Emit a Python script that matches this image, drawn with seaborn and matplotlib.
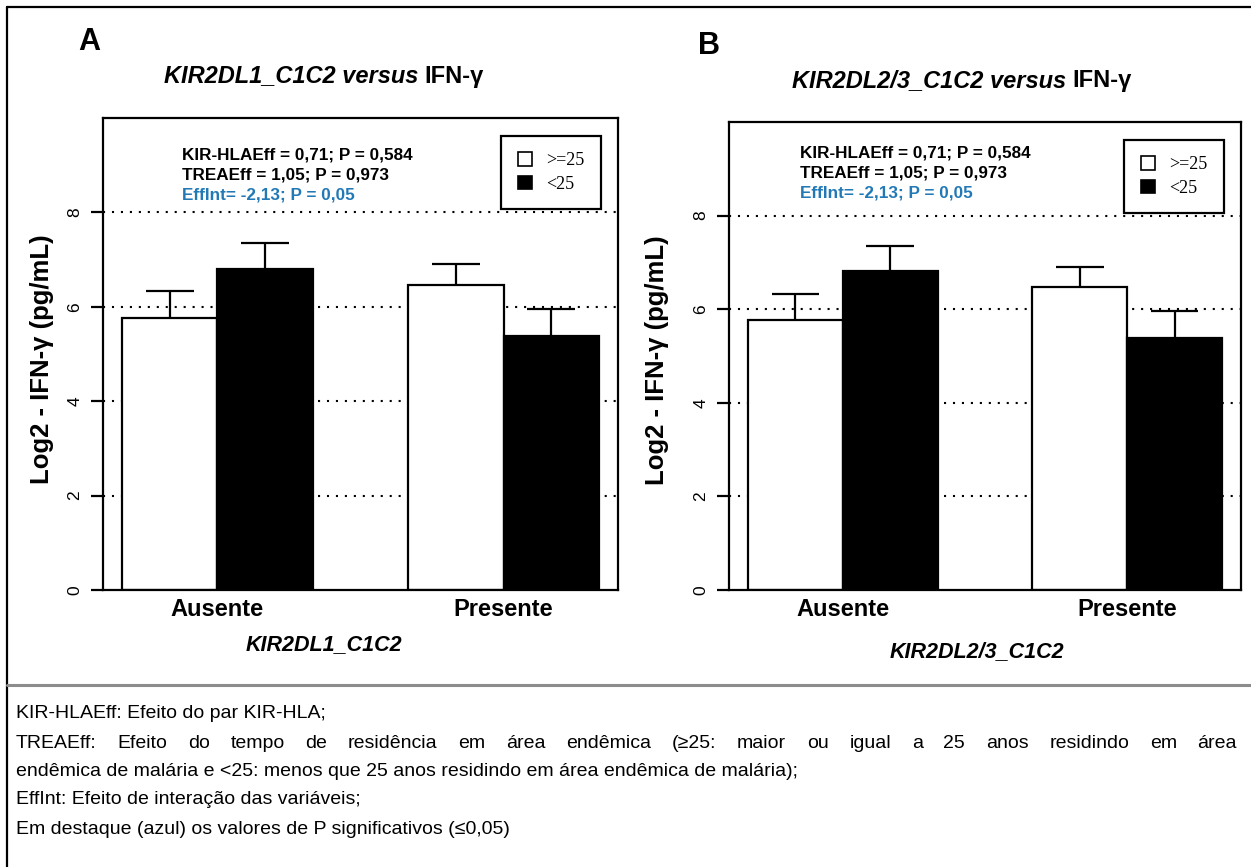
import matplotlib
matplotlib.use("Agg")
import matplotlib.pyplot as plt
import seaborn as sns
import pandas as pd
from matplotlib.patches import Patch
from matplotlib.lines import Line2D

# ---------------- data ----------------
groups = ["Ausente", "Presente"]
hue_levels = [">=25", "<25"]
means_ge25 = [5.76, 6.47]
means_lt25 = [6.81, 5.39]
se_ge25 = [0.57, 0.44]
se_lt25 = [0.54, 0.57]
yticks = [0, 2, 4, 6, 8]
panel_letters = ["A", "B"]
gene_labels = ["KIR2DL1_C1C2", "KIR2DL2/3_C1C2"]
stats_lines = ["KIR-HLAEff = 0,71; P = 0,584",
               "TREAEff = 1,05; P = 0,973",
               "EffInt= -2,13; P = 0,05"]
caption_lines = [
    "KIR-HLAEff: Efeito do par KIR-HLA;",
    "TREAEff: Efeito do tempo de residência em área endêmica (≥25: maior ou igual a 25 anos residindo em área",
    "endêmica de malária e <25: menos que 25 anos residindo em área endêmica de malária);",
    "EffInt: Efeito de interação das variáveis;",
    "Em destaque (azul) os valores de P significativos (≤0,05)",
]

BLUE = "#2279B6"
W, H = 1251, 867

sns.set_theme(style="white")
plt.rcParams["font.family"] = ["Liberation Sans", "DejaVu Sans"]
plt.rcParams["text.color"] = "black"
plt.rcParams["axes.labelcolor"] = "black"
plt.rcParams["xtick.color"] = "black"
plt.rcParams["ytick.color"] = "black"

df = pd.DataFrame({
    "group": groups * 2,
    "age": [hue_levels[0]] * 2 + [hue_levels[1]] * 2,
    "value": means_ge25 + means_lt25,
})
se_map = {(0, 0): se_ge25[0], (1, 0): se_ge25[1], (0, 1): se_lt25[0], (1, 1): se_lt25[1]}

fig = plt.figure(figsize=(W / 100, H / 100), dpi=100)
fig.patch.set_facecolor("white")


def fx(px):
    return px / W


def fy(py):
    return 1 - py / H


# axes boxes in pixel coords (left, top, right, bottom)
boxes = [(103, 118, 618, 590), (729, 122, 1241, 590)]
title_pos = [(324, 76), (962, 81)]
letter_pos = [(89, 42), (709, 46)]
stats_pos = [(182, 155), (800, 153)]
xlabel_pos = [(324, 645), (977, 652)]
ylabel_x = [42, 657]

renderer = fig.canvas.get_renderer()


def place_runs(runs, cx, cy, size):
    """place text runs (text, style) side by side centred at cx (pixels)"""
    texts = []
    widths = []
    for s, style in runs:
        t = fig.text(0, fy(cy), s, fontsize=size, fontweight="bold", fontstyle=style,
                     va="center", ha="left")
        widths.append(t.get_window_extent(renderer).width)
        texts.append(t)
    total = sum(widths)
    x = cx - total / 2
    for t, w in zip(texts, widths):
        t.set_x(fx(x))
        x += w


for i, (l, t, r, b) in enumerate(boxes):
    ax = fig.add_axes([fx(l), fy(b), fx(r - l), (b - t) / H])
    # dotted reference lines behind bars
    for yv in yticks[1:]:
        ax.axhline(yv, color="black", lw=1.5, ls=(0, (1, 3.3)), zorder=0)
    sns.barplot(data=df, x="group", y="value", hue="age", hue_order=hue_levels,
                palette={hue_levels[0]: "white", hue_levels[1]: "black"},
                edgecolor="black", linewidth=1.6, width=2 / 3, errorbar=None,
                legend=False, ax=ax, zorder=2)
    # upper error bars
    for p in ax.patches:
        w = p.get_width()
        xc = p.get_x() + w / 2
        h = p.get_height()
        gi = int(round(xc))
        hi = 0 if xc < gi else 1
        top = h + se_map[(gi, hi)]
        ax.plot([xc, xc], [h, top], color="black", lw=1.6, zorder=3, solid_capstyle="butt")
        ax.plot([xc - w / 4, xc + w / 4], [top, top], color="black", lw=1.6, zorder=3,
                solid_capstyle="butt")
    ax.set_xlim(-0.4, 1.4)
    ax.set_ylim(0, 10)
    ax.set_yticks(yticks)
    ax.set_yticklabels([str(v) for v in yticks], rotation=90, va="center", fontsize=12.5)
    ax.tick_params(axis="y", direction="out", length=9, width=1.6, pad=6, left=True)
    ax.tick_params(axis="x", length=0, pad=6)
    for lab in ax.get_xticklabels():
        lab.set_fontweight("bold")
        lab.set_fontsize(17)
    for s in ax.spines.values():
        s.set_visible(True)
        s.set_color("black")
        s.set_linewidth(1.6)
    ax.set_xlabel(gene_labels[i], fontsize=15.5, fontweight="bold", fontstyle="italic", va="center")
    ax.xaxis.set_label_coords((xlabel_pos[i][0] - l) / (r - l), -(xlabel_pos[i][1] - b) / (b - t))
    ax.set_ylabel("Log2 - IFN-γ (pg/mL)", fontsize=18.5, fontweight="bold", va="center")
    ax.yaxis.set_label_coords(-(l - ylabel_x[i]) / (r - l), 0.49)
    ax.grid(False)

    # legend
    handles = [Patch(facecolor="white", edgecolor="black", linewidth=1.2),
               Patch(facecolor="black", edgecolor="black", linewidth=1.2)]
    leg = ax.legend(handles, hue_levels, loc="upper right", bbox_to_anchor=(0.967, 0.962),
                    frameon=True, fancybox=False, edgecolor="black", framealpha=1,
                    prop={"family": "Liberation Serif", "size": 13},
                    handlelength=0.8, handleheight=0.8, borderpad=0.9, labelspacing=0.35,
                    handletextpad=0.8, borderaxespad=0)
    leg.get_frame().set_linewidth(1.6)

    # stats text
    sx, sy = stats_pos[i]
    for k, line in enumerate(stats_lines):
        fig.text(fx(sx), fy(sy + 20 * k), line, fontsize=12.3, fontweight="bold",
                 color=BLUE if k == 2 else "black", va="center", ha="left")

    # title and panel letter
    place_runs([(gene_labels[i] + " versus ", "italic"), ("IFN-γ", "normal")],
               title_pos[i][0], title_pos[i][1], 17)
    fig.text(fx(letter_pos[i][0]), fy(letter_pos[i][1]), panel_letters[i], fontsize=22,
             fontweight="bold", ha="center", va="center")

# frame lines of the composite figure
fig.add_artist(Line2D([fx(7), fx(7)], [fy(7), 0], color="black", lw=1.6, transform=fig.transFigure))
fig.add_artist(Line2D([fx(7), 1], [fy(7), fy(7)], color="black", lw=1.6, transform=fig.transFigure))
fig.add_artist(Line2D([fx(7), 1], [fy(685), fy(685)], color="#8c8c8c", lw=2.2, transform=fig.transFigure))

# caption
cap_size = 14
cap_y = [714, 743, 771, 800, 829]
for k, line in enumerate(caption_lines):
    if k == 1:
        # justified line
        words = line.split(" ")
        objs = [fig.text(0, fy(cap_y[k]), wd, fontsize=cap_size, va="center", ha="left") for wd in words]
        ws = [o.get_window_extent(renderer).width for o in objs]
        gap = (1237 - 16 - sum(ws)) / (len(words) - 1)
        x = 16
        for o, wdt in zip(objs, ws):
            o.set_x(fx(x))
            x += wdt + gap
    else:
        fig.text(fx(16), fy(cap_y[k]), line, fontsize=cap_size, va="center", ha="left")

fig.savefig("out.png", dpi=100, facecolor="white")
